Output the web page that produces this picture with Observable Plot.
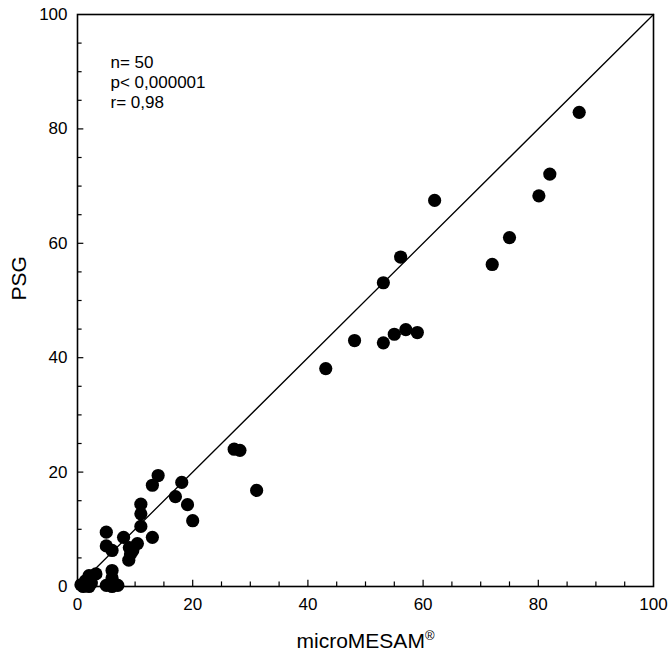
<!DOCTYPE html>
<html>
<head>
<meta charset="utf-8">
<script src="https://cdn.jsdelivr.net/npm/d3@7"></script>
<script src="https://cdn.jsdelivr.net/npm/@observablehq/plot@0.6"></script>
<style>
  html, body { margin: 0; padding: 0; background: #fff; }
</style>
</head>
<body>
<div id="chart"></div>
<script>
// microMESAM (x) vs PSG (y)
const microMESAM = [
  43.1, 48.1, 53.1, 53.1, 55.0, 57.0, 59.0, 56.1, 62.0, 72.0, 75.0, 80.1, 82.0, 87.1,
  27.2, 28.2, 31.1, 14.0, 13.0, 18.1, 17.0, 19.1, 20.0, 11.0, 11.0, 11.0, 13.0,
  5.0, 8.0, 5.0, 6.0, 10.4, 9.0, 9.2, 8.9, 6.0, 6.0, 2.0, 3.2, 1.4,
  1.0, 2.0, 5.0, 6.0, 7.0, 0.6, 2.4, 9.6, 6.5, 1.8
];
const PSG = [
  38.1, 43.0, 42.6, 53.1, 44.1, 44.9, 44.4, 57.6, 67.5, 56.3, 61.0, 68.3, 72.1, 82.9,
  24.0, 23.8, 16.8, 19.4, 17.7, 18.2, 15.7, 14.3, 11.5, 14.4, 12.7, 10.5, 8.6,
  9.5, 8.6, 7.1, 6.3, 7.5, 6.8, 5.7, 4.6, 2.8, 1.5, 1.9, 2.2, 1.0,
  0.0, 0.0, 0.2, 0.0, 0.2, 0.3, 0.6, 6.3, 0.4, 0.2
];
const labeledTicks = [0, 20, 40, 60, 80, 100];
const majorInnerTicks = [20, 40, 60, 80];
const minorTicks = [5, 10, 15, 25, 30, 35, 45, 50, 55, 65, 70, 75, 85, 90, 95];
const identityLine = [0, 100];
const statLines = ["n= 50", "p< 0,000001", "r= 0,98"];
const xTitle = "microMESAM®";
const yTitle = "PSG";

const points = microMESAM.map((x, i) => ({x, y: PSG[i]}));

const chart = Plot.plot({
  width: 669,
  height: 664,
  marginLeft: 77,
  marginRight: 16,
  marginTop: 14,
  marginBottom: 78,
  x: {domain: [0, 100]},
  y: {domain: [0, 100]},
  style: {fontFamily: "'Liberation Sans', Arial, Helvetica, sans-serif", fontSize: "17px", color: "black", background: "white"},
  marks: [
    Plot.axisX(labeledTicks, {tickSize: 0, tickPadding: 11, label: null, fontSize: 17}),
    Plot.axisY(labeledTicks, {tickSize: 0, tickPadding: 10, label: null, fontSize: 17}),
    // inward ticks
    Plot.ruleX(minorTicks, {x: d => d, y1: 0, y2: 0.8, stroke: "black", strokeWidth: 1.2}),
    Plot.ruleX(majorInnerTicks, {x: d => d, y1: 0, y2: 1.1, stroke: "black", strokeWidth: 1.2}),
    Plot.ruleY(minorTicks, {y: d => d, x1: 0, x2: 0.8, stroke: "black", strokeWidth: 1.2}),
    Plot.ruleY(majorInnerTicks, {y: d => d, x1: 0, x2: 1.1, stroke: "black", strokeWidth: 1.2}),
    Plot.line(identityLine, {x: d => d, y: d => d, stroke: "black", strokeWidth: 1.3}),
    Plot.dot(points, {x: "x", y: "y", r: 6.6, fill: "black"}),
    Plot.frame({stroke: "black", strokeWidth: 1.6}),
    Plot.text([statLines.join("\n")], {
      text: d => d, frameAnchor: "top-left", lineAnchor: "top", textAnchor: "start",
      dx: 33, dy: 39, lineHeight: 1.18, fontSize: 17, fill: "black"
    }),
    Plot.text([yTitle], {text: d => d, frameAnchor: "left", dx: -58, rotate: -90, fontSize: 21, fill: "black"}),
    Plot.text([xTitle], {text: d => d, frameAnchor: "bottom", dy: 61, fontSize: 21, fill: "black"})
  ]
});

// superscript the registered sign in the x title
chart.querySelectorAll("text").forEach(t => {
  if (t.textContent === xTitle) {
    t.textContent = "microMESAM";
    const ts = document.createElementNS("http://www.w3.org/2000/svg", "tspan");
    ts.setAttribute("font-size", "13");
    ts.setAttribute("dy", "-8");
    ts.textContent = "®";
    t.appendChild(ts);
  }
});

document.getElementById("chart").appendChild(chart);
</script>
</body>
</html>
